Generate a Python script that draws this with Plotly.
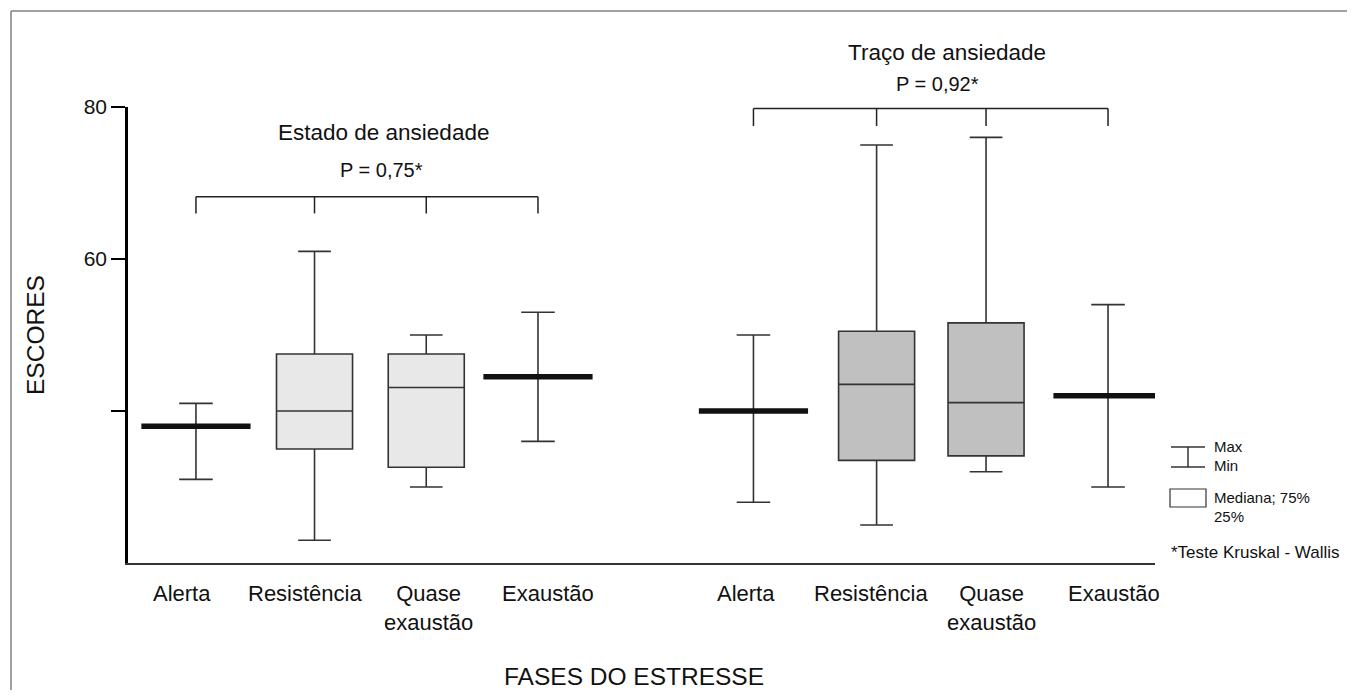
import plotly.graph_objects as go

# ---------------- data ----------------
categories = ["Alerta", "Resistência", "Quase<br>exaustão", "Exaustão"]

estado_min = [31, 23, 30, 36]
estado_q1 = [None, 35, 32.6, None]
estado_med = [38, 40, 43.1, 44.5]
estado_q3 = [None, 47.5, 47.5, None]
estado_max = [41, 61, 50, 53]

traco_min = [28, 25, 32, 30]
traco_q1 = [None, 33.5, 34.1, None]
traco_med = [40, 43.5, 41.1, 42]
traco_q3 = [None, 50.5, 51.6, None]
traco_max = [50, 75, 76, 54]

group_titles = ["Estado de ansiedade", "Traço de ansiedade"]
p_values = ["P = 0,75*", "P = 0,92*"]

y_tickvals = [40, 60, 80]
y_ticktext = ["", "60", "80"]

# ---------------- layout constants ----------------
OFF = 8                      # page body margin
W, H = 1355 - 2 * OFF, 698 - 2 * OFF
PL, PT, PR, PB = 128, 107, 1155, 563   # plot area in page pixels
ML, MT = PL - OFF, PT - OFF
PW, PH = PR - PL, PB - PT
MR, MB = W - ML - PW, H - MT - PH
FONT = "Liberation Sans, Arial, sans-serif"

pos_left = [0.0, 1.04, 2.02, 3.0]
pos_right = [4.89, 5.97, 6.93, 8.0]
label_shift = [[-14, -10, 2, 10], [-7, -6, 5, 6]]
XR = [-0.596, 8.412]
YR = [20, 80]

box_w = 0.667
bar_px = 78
fills = ["#e8e8e8", "#c0c0c0"]
edge = "#333333"


def px_x(px):
    return (px - PL) / PW


def px_y(py):
    return (PB - py) / PH


fig = go.Figure()

groups = [
    (pos_left, estado_min, estado_q1, estado_med, estado_q3, estado_max, fills[0]),
    (pos_right, traco_min, traco_q1, traco_med, traco_q3, traco_max, fills[1]),
]

for pos, mn, q1, md, q3, mx, fc in groups:
    for i in range(len(categories)):
        has_box = q1[i] is not None
        fig.add_trace(go.Box(
            x=[pos[i]],
            q1=[q1[i] if has_box else md[i]],
            median=[md[i]],
            q3=[q3[i] if has_box else md[i]],
            lowerfence=[mn[i]],
            upperfence=[mx[i]],
            width=box_w if has_box else box_w * bar_px / 76,
            whiskerwidth=0.43,
            fillcolor=fc if has_box else "rgba(0,0,0,0)",
            line=dict(color=edge, width=1.6),
            boxpoints=False,
            hoverinfo="skip",
            showlegend=False,
        ))
    thick_x = [pos[i] for i in range(len(categories)) if q1[i] is None]
    thick_y = [md[i] for i in range(len(categories)) if q1[i] is None]
    fig.add_trace(go.Scatter(
        x=thick_x, y=thick_y, mode="markers",
        marker=dict(symbol="line-ew", size=bar_px,
                    line=dict(color="#111111", width=5.5)),
        hoverinfo="skip", showlegend=False,
    ))

annotations = []
shapes = []

# category labels
for g, pos in enumerate((pos_left, pos_right)):
    for i, c in enumerate(categories):
        annotations.append(dict(
            x=pos[i], y=0, xref="x", yref="paper", yanchor="top",
            xanchor="center", xshift=label_shift[g][i],
            yshift=-16, text=c, showarrow=False,
            font=dict(size=22, color="#111", family=FONT),
        ))

# brackets + titles
bracket_y = [(68.2, 66.0), (79.8, 77.5)]
title_xy = [((383, 133), (381, 170)), ((947, 53), (937, 84))]
for g, pos in enumerate((pos_left, pos_right)):
    ytop, ybot = bracket_y[g]
    shapes.append(dict(type="line", xref="x", yref="y", x0=pos[0], x1=pos[-1],
                       y0=ytop, y1=ytop, line=dict(color="#222", width=1.5)))
    for p in pos:
        shapes.append(dict(type="line", xref="x", yref="y", x0=p, x1=p,
                           y0=ytop, y1=ybot, line=dict(color="#222", width=1.5)))
    (tx, ty), (px_, py_) = title_xy[g]
    annotations.append(dict(x=px_x(tx), y=px_y(ty), xref="paper", yref="paper",
                            xanchor="center", yanchor="middle",
                            text=group_titles[g], showarrow=False,
                            font=dict(size=22.5, color="#111", family=FONT)))
    annotations.append(dict(x=px_x(px_), y=px_y(py_), xref="paper", yref="paper",
                            xanchor="center", yanchor="middle",
                            text=p_values[g], showarrow=False,
                            font=dict(size=20, color="#111", family=FONT)))

# axis titles
annotations.append(dict(x=px_x(35), y=px_y(335), xref="paper", yref="paper",
                        xanchor="center", yanchor="middle",
                        text="ESCORES", textangle=-90, showarrow=False,
                        font=dict(size=24.5, color="#111", family=FONT)))
annotations.append(dict(x=px_x(634), y=px_y(676), xref="paper", yref="paper",
                        xanchor="center", yanchor="middle",
                        text="FASES DO ESTRESSE", showarrow=False,
                        font=dict(size=24.5, color="#111", family=FONT)))

# legend key
lg = "#333"
shapes += [
    dict(type="line", xref="paper", yref="paper", x0=px_x(1171), x1=px_x(1205),
         y0=px_y(447), y1=px_y(447), line=dict(color=lg, width=1.5)),
    dict(type="line", xref="paper", yref="paper", x0=px_x(1171), x1=px_x(1205),
         y0=px_y(467), y1=px_y(467), line=dict(color=lg, width=1.5)),
    dict(type="line", xref="paper", yref="paper", x0=px_x(1188), x1=px_x(1188),
         y0=px_y(447), y1=px_y(467), line=dict(color=lg, width=1.5)),
    dict(type="rect", xref="paper", yref="paper", x0=px_x(1170), x1=px_x(1206),
         y0=px_y(489), y1=px_y(507), line=dict(color=lg, width=1.2),
         fillcolor="white"),
]
for txt, yy in (("Max", 446), ("Min", 465), ("Mediana; 75%", 497), ("25%", 516)):
    annotations.append(dict(x=px_x(1212), y=px_y(yy), xref="paper", yref="paper",
                            xanchor="left", yanchor="middle", text=txt,
                            showarrow=False,
                            font=dict(size=15, color="#111", family=FONT)))
annotations.append(dict(x=px_x(1169), y=px_y(552), xref="paper", yref="paper",
                        xanchor="left", yanchor="middle",
                        text="*Teste Kruskal - Wallis", showarrow=False,
                        font=dict(size=17, color="#111", family=FONT)))

# outer frame (top and left edges only; the others lie outside the page)
frame = dict(color="#808080", width=1.5)
shapes.append(dict(type="line", xref="paper", yref="paper", layer="below",
                   x0=px_x(11), x1=px_x(1400), y0=px_y(11), y1=px_y(11), line=frame))
shapes.append(dict(type="line", xref="paper", yref="paper", layer="below",
                   x0=px_x(11), x1=px_x(11), y0=px_y(11), y1=px_y(740), line=frame))

fig.update_layout(
    width=W, height=H,
    margin=dict(l=ML, r=MR, t=MT, b=MB, autoexpand=False),
    paper_bgcolor="white", plot_bgcolor="white",
    boxmode="overlay", showlegend=False,
    font=dict(family=FONT, color="#111"),
    xaxis=dict(range=XR, showgrid=False, zeroline=False, showticklabels=False,
               ticks="", showline=True, linecolor="#333", linewidth=2),
    yaxis=dict(range=YR, showgrid=False, zeroline=False, showline=True,
               linecolor="black", linewidth=2.5, tickvals=y_tickvals,
               ticktext=y_ticktext, ticks="outside", ticklen=14, tickwidth=2,
               tickcolor="black", tickfont=dict(size=21, color="#111", family=FONT)),
    annotations=annotations, shapes=shapes,
)

fig.write_html("out.html")
